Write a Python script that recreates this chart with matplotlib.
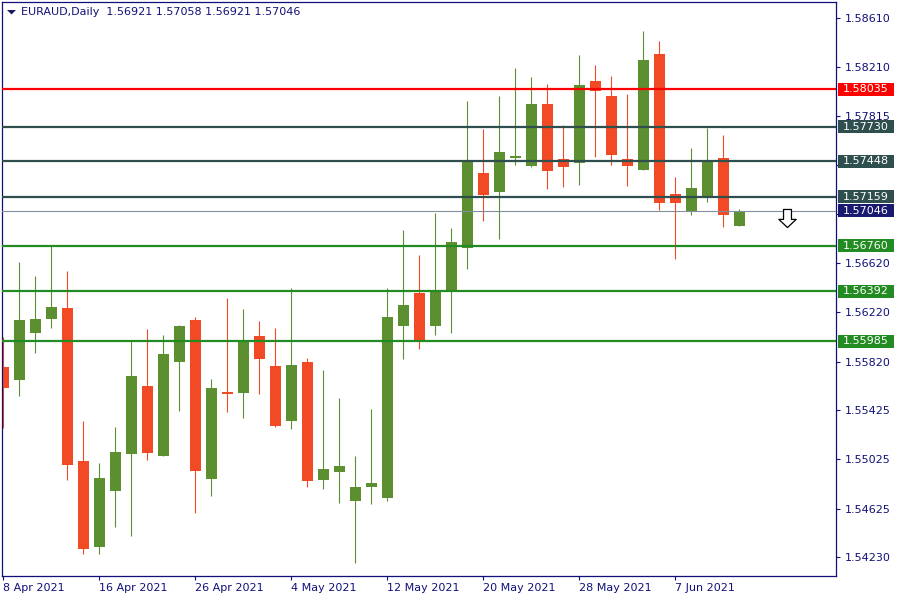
import numpy as np
import pandas as pd
import matplotlib
matplotlib.use("Agg")
import matplotlib.pyplot as plt
from matplotlib.patches import Rectangle, Polygon
from matplotlib.path import Path
from matplotlib.transforms import blended_transform_factory

# daily candles, 8 Apr 2021 .. 11 Jun 2021
opens = [1.55779, 1.55671, 1.56055, 1.56169, 1.56256, 1.55013, 1.54314, 1.54769, 1.55069, 1.55622,
         1.55053, 1.55817, 1.56158, 1.54866, 1.55573, 1.55565, 1.56028, 1.55785, 1.55338, 1.55817,
         1.54858, 1.54923, 1.54688, 1.54801, 1.54712, 1.56110, 1.56375, 1.56110, 1.56402, 1.56746,
         1.57353, 1.57201, 1.57477, 1.57412, 1.57914, 1.57467, 1.57437, 1.58101, 1.57979, 1.57467,
         1.57380, 1.58320, 1.57182, 1.57047, 1.57168, 1.57475, 1.56921]
highs = [1.56023, 1.56627, 1.56516, 1.56762, 1.56557, 1.55338, 1.54996, 1.55289, 1.55993, 1.56085,
         1.56036, 1.56118, 1.56183, 1.55679, 1.56337, 1.56248, 1.56150, 1.56093, 1.56418, 1.55850,
         1.55752, 1.55525, 1.55053, 1.55435, 1.56418, 1.56890, 1.56687, 1.57030, 1.56906, 1.57940,
         1.57710, 1.57979, 1.58206, 1.58133, 1.58079, 1.57743, 1.58312, 1.58231, 1.58141, 1.57995,
         1.58507, 1.58426, 1.57323, 1.57559, 1.57721, 1.57662, 1.57058]
lows = [1.55278, 1.55541, 1.55893, 1.56096, 1.54858, 1.54257, 1.54257, 1.54476, 1.54403, 1.55021,
        1.55050, 1.55419, 1.54590, 1.54728, 1.55411, 1.55362, 1.55557, 1.55290, 1.55273, 1.54801,
        1.54785, 1.54671, 1.54184, 1.54663, 1.54688, 1.55841, 1.55923, 1.56036, 1.56053, 1.56575,
        1.56965, 1.56819, 1.57420, 1.57405, 1.57225, 1.57242, 1.57258, 1.57485, 1.57420, 1.57250,
        1.57375, 1.57055, 1.56657, 1.57014, 1.57120, 1.56916, 1.56921]
closes = [1.55608, 1.56158, 1.56166, 1.56266, 1.54983, 1.54300, 1.54874, 1.55086, 1.55703, 1.55078,
          1.55882, 1.56110, 1.54931, 1.55606, 1.55557, 1.55996, 1.55841, 1.55297, 1.55793, 1.54850,
          1.54948, 1.54972, 1.54801, 1.54834, 1.56183, 1.56280, 1.55996, 1.56388, 1.56792, 1.57459,
          1.57177, 1.57524, 1.57494, 1.57914, 1.57372, 1.57404, 1.58068, 1.58022, 1.57502, 1.57412,
          1.58271, 1.57112, 1.57112, 1.57231, 1.57445, 1.57014, 1.57046]

level_prices = [1.58035, 1.57730, 1.57448, 1.57159, 1.56760, 1.56392, 1.55985]
level_colors = ["#FF0000", "#2F4F4F", "#2F4F4F", "#2F4F4F", "#228B22", "#228B22", "#228B22"]
bid_price = 1.57046

price_ticks = [1.58610, 1.58210, 1.57815, 1.57420, 1.57020, 1.56620,
               1.56220, 1.55820, 1.55425, 1.55025, 1.54625, 1.54230]
hidden_ticks = [1.57420, 1.57020]  # covered by the level labels
date_ticks = ["2021-04-08", "2021-04-16", "2021-04-26", "2021-05-04",
              "2021-05-12", "2021-05-20", "2021-05-28", "2021-06-07"]
date_labels = ["8 Apr 2021", "16 Apr 2021", "26 Apr 2021", "4 May 2021",
               "12 May 2021", "20 May 2021", "28 May 2021", "7 Jun 2021"]

signal_bar = [49]
signal_price = [1.56987]

UP = "#5B8F30"
DOWN = "#F24A25"
NAVY = "#10107A"

dates = pd.bdate_range("2021-04-08", periods=len(opens))
x = np.arange(len(opens))
o = np.array(opens)
c = np.array(closes)

fig = plt.figure(figsize=(9, 6), dpi=100)
ax = fig.add_axes([2 / 900, 24 / 600, 834 / 900, 574 / 600])

ymin, ymax = 1.54078, 1.58742
px = (ymax - ymin) / 574

colors = [UP if cl >= op else DOWN for op, cl in zip(opens, closes)]
ax.vlines(x, lows, highs, colors=colors, linewidth=0.8, zorder=2)
body_h = np.maximum(np.abs(c - o), 1.2 * px)
ax.bar(x, body_h, bottom=np.minimum(o, c), width=0.68, color=colors,
       linewidth=0, zorder=2)

for p, col in zip(level_prices, level_colors):
    ax.axhline(p, color=col, linewidth=1.6, zorder=3)
ax.axhline(bid_price, color="#8090A0", linewidth=0.8, zorder=3)

# sell arrow
arrow = Path([(-0.22, 0.5), (0.22, 0.5), (0.22, -0.05), (0.48, -0.05), (0.0, -0.5),
              (-0.48, -0.05), (-0.22, -0.05), (-0.22, 0.5)])
ax.plot(signal_bar, signal_price, linestyle="none", marker=arrow, markersize=13,
        markerfacecolor="white", markeredgecolor="black", markeredgewidth=0.9, zorder=4)

ax.set_xlim(-0.08, 52.04)
ax.set_ylim(ymin, ymax)

# axes styling
for s in ax.spines.values():
    s.set_color(NAVY)
    s.set_linewidth(0.9)
ax.yaxis.tick_right()
ax.set_yticks(price_ticks)
ax.set_yticklabels(["" if t in hidden_ticks else f"{t:.5f}" for t in price_ticks])
ax.tick_params(axis="y", direction="out", length=3, width=0.8, color=NAVY,
               labelcolor=NAVY, labelsize=8, pad=3)

tick_pos = [list(dates.strftime("%Y-%m-%d")).index(d) for d in date_ticks]
ax.set_xticks(tick_pos)
ax.set_xticklabels(date_labels, ha="left")
ax.tick_params(axis="x", direction="out", length=3, width=0.8, color=NAVY,
               labelcolor=NAVY, labelsize=8, pad=2)

# price labels on the right axis
trans = blended_transform_factory(fig.transFigure, ax.transData)
label_prices = level_prices + [bid_price]
label_colors = level_colors + ["#191970"]
for p, col in zip(label_prices, label_colors):
    fig.add_artist(Rectangle((838 / 900, p - 6.5 * px), 56 / 900, 13 * px,
                             transform=trans, facecolor=col, edgecolor="none", zorder=5))
    fig.add_artist(plt.Text(843 / 900, p, f"{p:.5f}", transform=trans, color="white",
                            fontsize=8, ha="left", va="center", zorder=6))

# header
fig.add_artist(Polygon([(7 / 900, 1 - 10 / 600), (16 / 900, 1 - 10 / 600),
                        (11.5 / 900, 1 - 14.5 / 600)], closed=True,
                       transform=fig.transFigure, facecolor="#1a1a60", edgecolor="none"))
header = (f"EURAUD,Daily  {opens[-1]:.5f} {highs[-1]:.5f} "
          f"{lows[-1]:.5f} {closes[-1]:.5f}")
fig.text(21 / 900, 1 - 12 / 600, header, fontsize=8, color=NAVY, ha="left", va="center")

fig.savefig("out.png", dpi=100, facecolor="white")
